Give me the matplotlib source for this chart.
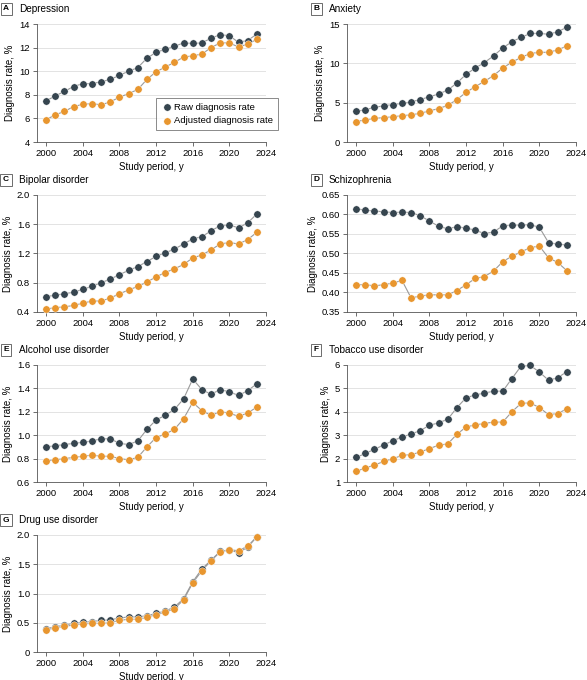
import matplotlib
matplotlib.use("Agg")
import matplotlib.pyplot as plt

years = list(range(2000, 2024))

dep_raw = [7.5,7.9,8.3,8.7,8.95,8.95,9.1,9.3,9.65,10.0,10.3,11.1,11.6,11.85,12.1,12.4,12.35,12.4,12.8,13.1,13.0,12.45,12.6,13.15]
dep_adj = [5.9,6.3,6.6,7.0,7.2,7.25,7.15,7.4,7.8,8.1,8.45,9.3,9.95,10.35,10.75,11.2,11.3,11.45,12.0,12.4,12.4,12.05,12.3,12.7]
anx_raw = [3.9,4.1,4.4,4.6,4.75,4.9,5.1,5.4,5.75,6.1,6.6,7.5,8.6,9.4,10.1,10.95,11.95,12.75,13.3,13.8,13.8,13.7,14.0,14.6]
anx_adj = [2.6,2.8,3.0,3.1,3.2,3.35,3.45,3.65,3.95,4.25,4.65,5.4,6.3,7.05,7.7,8.45,9.4,10.15,10.75,11.25,11.4,11.4,11.7,12.2]
bip_raw = [.61,.63,.65,.67,.71,.75,.80,.85,.91,.97,1.02,1.09,1.16,1.21,1.26,1.33,1.40,1.43,1.51,1.58,1.59,1.55,1.62,1.74]
bip_adj = [.44,.46,.47,.49,.52,.55,.55,.59,.65,.70,.75,.81,.88,.94,.99,1.05,1.14,1.18,1.25,1.33,1.35,1.33,1.39,1.49]
sch_raw = [.615,.611,.609,.607,.605,.606,.605,.597,.583,.570,.563,.569,.565,.560,.551,.555,.571,.573,.573,.574,.567,.528,.524,.522]
sch_adj = [.420,.420,.417,.420,.424,.431,.386,.391,.394,.394,.394,.405,.420,.436,.441,.455,.479,.493,.504,.515,.519,.489,.477,.456]
alc_raw = [.90,.91,.92,.93,.94,.95,.97,.97,.93,.92,.95,1.05,1.13,1.17,1.22,1.31,1.48,1.39,1.35,1.39,1.37,1.34,1.38,1.44]
alc_adj = [.78,.79,.80,.81,.82,.83,.82,.82,.80,.79,.81,.90,.98,1.01,1.05,1.14,1.28,1.21,1.17,1.20,1.19,1.16,1.19,1.24]
tob_raw = [2.05,2.22,2.4,2.58,2.76,2.92,3.05,3.2,3.42,3.53,3.68,4.18,4.6,4.72,4.8,4.88,4.88,5.42,5.95,5.98,5.7,5.35,5.45,5.72]
tob_adj = [1.45,1.6,1.72,1.88,1.99,2.14,2.17,2.28,2.43,2.57,2.63,3.04,3.35,3.44,3.5,3.56,3.56,4.0,4.36,4.38,4.18,3.88,3.92,4.13]
drg_raw = [.40,.43,.46,.49,.51,.52,.54,.55,.58,.60,.60,.62,.66,.70,.77,.91,1.20,1.42,1.57,1.72,1.74,1.70,1.79,1.97]
drg_adj = [.38,.41,.44,.46,.48,.49,.49,.50,.54,.56,.56,.59,.64,.68,.74,.89,1.18,1.39,1.56,1.71,1.75,1.73,1.81,1.97]

panels = [
    ("A", "Depression", dep_raw, dep_adj, [4,6,8,10,12,14], ["4","6","8","10","12","14"]),
    ("B", "Anxiety", anx_raw, anx_adj, [0,5,10,15], ["0","5","10","15"]),
    ("C", "Bipolar disorder", bip_raw, bip_adj, [0.4,0.8,1.2,1.6,2.0], ["0.4","0.8","1.2","1.6","2.0"]),
    ("D", "Schizophrenia", sch_raw, sch_adj, [0.35,0.40,0.45,0.50,0.55,0.60,0.65], ["0.35","0.40","0.45","0.50","0.55","0.60","0.65"]),
    ("E", "Alcohol use disorder", alc_raw, alc_adj, [0.6,0.8,1.0,1.2,1.4,1.6], ["0.6","0.8","1.0","1.2","1.4","1.6"]),
    ("F", "Tobacco use disorder", tob_raw, tob_adj, [1,2,3,4,5,6], ["1","2","3","4","5","6"]),
    ("G", "Drug use disorder", drg_raw, drg_adj, [0,0.5,1.0,1.5,2.0], ["0","0.5","1.0","1.5","2.0"]),
]
xticks = [2000, 2004, 2008, 2012, 2016, 2020, 2024]

W, H = 587, 680
fig = plt.figure(figsize=(W/100, H/100), dpi=100)
plt.rcParams['font.family'] = ['Liberation Sans', 'DejaVu Sans']

RAW = "#36454f"
ADJ = "#e8962f"
boxes = [
    (37, 24, 266, 142), (347, 24, 576, 142),
    (37, 195, 266, 312), (347, 195, 576, 312),
    (37, 365, 266, 482), (347, 365, 576, 482),
    (37, 535, 266, 652),
]
for (lab, title, raw, adj, yt, ytl), (l, t, r, b) in zip(panels, boxes):
    ax = fig.add_axes([l/W, 1-b/H, (r-l)/W, (b-t)/H])
    ax.plot(years, raw, color="#9a9a9a", lw=0.8, zorder=2, clip_on=False)
    ax.plot(years, adj, color="#9a9a9a", lw=0.8, zorder=2, clip_on=False)
    ax.scatter(years, raw, s=28, color=RAW, zorder=3, label="Raw diagnosis rate",
               edgecolors="white", linewidths=0.3, clip_on=False)
    ax.scatter(years, adj, s=28, color=ADJ, zorder=4, label="Adjusted diagnosis rate",
               edgecolors="white", linewidths=0.3, clip_on=False)
    ax.set_xlim(1999, 2024)
    ax.set_ylim(yt[0], yt[-1])
    ax.set_yticks(yt)
    ax.set_yticklabels(ytl)
    ax.set_xticks(xticks)
    ax.tick_params(labelsize=6.8, length=3, width=0.6, color="#555555", pad=2)
    ax.grid(axis="y", color="#e3e3e3", lw=0.7)
    ax.set_axisbelow(True)
    for s in ["top", "right"]:
        ax.spines[s].set_visible(False)
    for s in ["left", "bottom"]:
        ax.spines[s].set_color("#555555")
        ax.spines[s].set_linewidth(0.6)
    ax.set_xlabel("Study period, y", fontsize=7, labelpad=3)
    ax.set_ylabel("Diagnosis rate, %", fontsize=7, labelpad=3)
    fx = (l - 31) / W
    fig.text(fx, 1 - (t - 15)/H, lab, fontsize=6, fontweight="bold", va="center", ha="center",
             bbox=dict(boxstyle="square,pad=0.3", fc="white", ec="#555555", lw=0.6))
    fig.text(fx + 13/W, 1 - (t - 15)/H, title, fontsize=7.2, va="center", ha="left")
    if lab == "A":
        ax.legend(loc="lower left", bbox_to_anchor=(0.5, 0.06), fontsize=6.8, frameon=True,
                  fancybox=False, edgecolor="#555555", handletextpad=0.2, borderpad=0.5,
                  labelspacing=0.5, handlelength=1.2).get_frame().set_linewidth(0.6)

fig.savefig("out.png", dpi=100)
